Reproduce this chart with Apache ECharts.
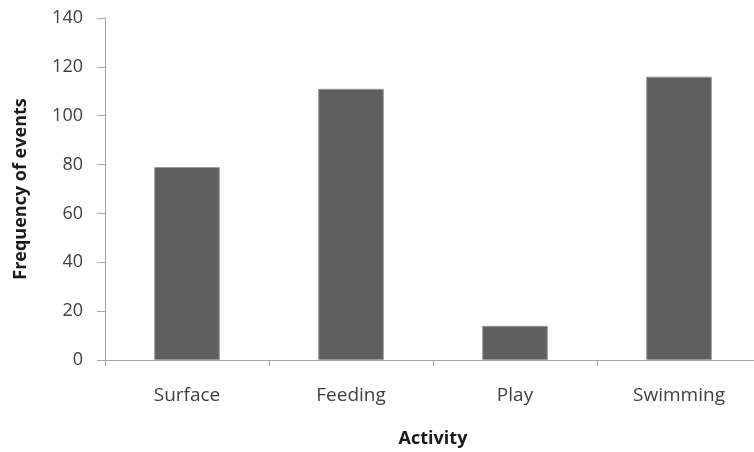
<!DOCTYPE html>
<html>
<head>
<meta charset="utf-8">
<script src="https://cdn.jsdelivr.net/npm/echarts@6/dist/echarts.min.js"></script>
<style>html,body{margin:0;padding:0;background:#fff}#c{width:754px;height:452px}</style>
</head>
<body>
<div id="c"></div>
<script>
const categories = ["Surface", "Feeding", "Play", "Swimming"];
const frequency = [79, 111, 14, 116];
const yTicks = [0, 20, 40, 60, 80, 100, 120, 140];

const chart = echarts.init(document.getElementById('c'), null, {renderer: 'canvas'});
const font = '"Open Sans", "Liberation Sans", sans-serif';
chart.setOption({
  animation: false,
  backgroundColor: '#ffffff',
  grid: {left: 105, top: 18, width: 656, height: 342, containLabel: false, outerBoundsMode: 'none'},
  xAxis: {
    type: 'category',
    data: categories,
    name: 'Activity',
    nameLocation: 'middle',
    nameGap: 70,
    nameTextStyle: {fontFamily: font, fontSize: 18, fontWeight: 'bold', color: '#1a1a1a'},
    axisLine: {lineStyle: {color: '#a6a6a6', width: 1}},
    axisTick: {show: true, length: 6, lineStyle: {color: '#a6a6a6'}},
    axisLabel: {fontFamily: font, fontSize: 19, color: '#404040', margin: 26}
  },
  yAxis: {
    type: 'value',
    min: yTicks[0],
    max: yTicks[yTicks.length - 1],
    interval: 20,
    name: 'Frequency of events',
    nameLocation: 'middle',
    nameGap: 75,
    nameTextStyle: {fontFamily: font, fontSize: 18, fontWeight: 'bold', color: '#1a1a1a'},
    axisLine: {show: true, lineStyle: {color: '#a6a6a6', width: 1}},
    axisTick: {show: true, length: 8, lineStyle: {color: '#a6a6a6'}},
    splitLine: {show: false},
    axisLabel: {fontFamily: font, fontSize: 18, color: '#404040', margin: 22}
  },
  series: [{
    type: 'bar',
    data: frequency,
    barWidth: '40%',
    itemStyle: {color: '#5f5f5f', borderColor: '#9a9a9a', borderWidth: 1}
  }]
});
</script>
</body>
</html>
